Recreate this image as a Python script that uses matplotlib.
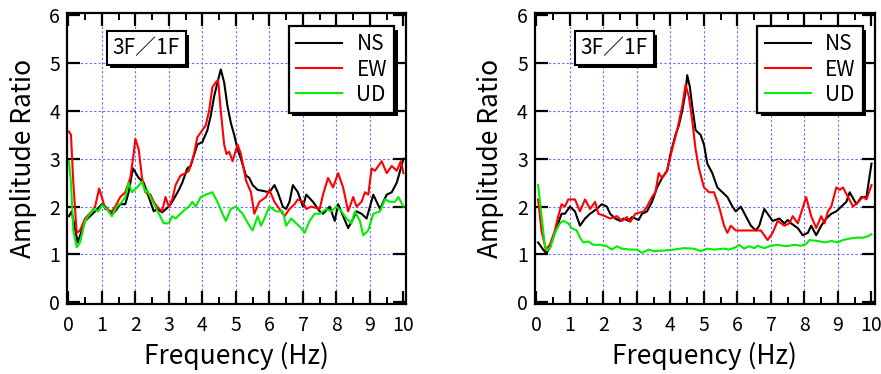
import matplotlib
matplotlib.use("Agg")
import matplotlib.pyplot as plt
from matplotlib.ticker import MultipleLocator
import matplotlib.patheffects as pe

plt.rcParams['font.family'] = ['Noto Sans CJK JP', 'DejaVu Sans']

# ---- left panel (3F/1F) ----
L_ns_f = [0.02, 0.1, 0.28, 0.5, 0.8, 1.0, 1.1, 1.3, 1.4, 1.55, 1.7, 1.8, 1.93, 2.1, 2.25, 2.35, 2.45,
          2.55, 2.65, 2.8, 3.0, 3.1, 3.3, 3.4, 3.55, 3.65, 3.85, 4.0, 4.15, 4.25, 4.35, 4.45, 4.55,
          4.65, 4.75, 4.85, 4.95, 5.05, 5.15, 5.3, 5.4, 5.5, 5.65, 5.8, 6.0, 6.15, 6.25, 6.4, 6.5,
          6.6, 6.7, 6.85, 7.0, 7.1, 7.3, 7.5, 7.6, 7.8, 7.95, 8.05, 8.2, 8.35, 8.5, 8.6, 8.75, 8.9,
          9.1, 9.3, 9.5, 9.65, 9.8, 10.0]
L_ns = [1.8, 1.9, 1.25, 1.7, 1.9, 2.05, 2.0, 1.85, 1.9, 2.05, 2.05, 2.3, 2.8, 2.6, 2.5, 2.3, 2.1,
        1.9, 1.95, 1.88, 2.0, 2.1, 2.35, 2.5, 2.8, 2.85, 3.3, 3.35, 3.6, 3.9, 4.3, 4.6, 4.87,
        4.6, 4.1, 3.75, 3.5, 3.2, 3.0, 2.65, 2.6, 2.45, 2.35, 2.33, 2.3, 2.45, 2.3, 2.0, 1.95,
        2.1, 2.45, 2.3, 2.0, 2.25, 2.1, 1.9, 1.85, 2.0, 1.7, 2.05, 1.8, 1.55, 1.75, 1.9, 1.85, 1.75,
        2.25, 1.95, 2.25, 2.3, 2.5, 3.0]

L_ew_f = [0.02, 0.08, 0.15, 0.25, 0.35, 0.5, 0.7, 0.8, 0.92, 1.0, 1.1, 1.3, 1.4, 1.55, 1.7, 1.85,
          1.95, 2.0, 2.1, 2.2, 2.3, 2.45, 2.55, 2.65, 2.8, 2.9, 3.0, 3.1, 3.2, 3.35, 3.5, 3.6, 3.75,
          3.85, 4.0, 4.1, 4.2, 4.3, 4.4, 4.47, 4.55, 4.65, 4.72, 4.8, 4.9, 5.05, 5.15, 5.3, 5.45,
          5.55, 5.7, 5.9, 6.0, 6.15, 6.3, 6.45, 6.6, 6.75, 6.85, 7.0, 7.1, 7.25, 7.5, 7.6, 7.75,
          7.9, 8.05, 8.2, 8.35, 8.5, 8.6, 8.75, 8.85, 8.95, 9.05, 9.15, 9.35, 9.5, 9.65, 9.8, 9.92,
          10.0]
L_ew = [3.57, 3.5, 2.5, 1.45, 1.5, 1.75, 1.9, 2.0, 2.38, 2.2, 1.95, 1.9, 2.0, 2.2, 2.3, 2.6,
        3.1, 3.42, 3.2, 2.6, 2.3, 2.25, 2.1, 2.0, 1.9, 2.2, 2.0, 2.15, 2.45, 2.65, 2.7, 2.75, 3.1,
        3.45, 3.6, 3.7, 4.0, 4.5, 4.6, 4.65, 4.0, 3.3, 3.1, 3.15, 2.95, 3.3, 3.1, 2.55, 2.3,
        1.85, 2.1, 2.2, 2.35, 2.1, 1.95, 1.8, 1.95, 2.05, 2.15, 2.1, 1.95, 2.0, 1.95, 2.25, 2.6,
        2.4, 2.7, 2.4, 1.9, 2.2, 2.0, 2.1, 2.3, 2.25, 2.8, 2.75, 2.95, 2.7, 2.85, 2.75, 2.95,
        2.7]

L_ud_f = [0.02, 0.08, 0.15, 0.25, 0.35, 0.5, 0.65, 0.75, 0.9, 1.0, 1.15, 1.3, 1.45, 1.6, 1.7, 1.8,
          1.9, 2.05, 2.2, 2.3, 2.35, 2.45, 2.6, 2.7, 2.85, 3.0, 3.1, 3.2, 3.35, 3.5, 3.6, 3.7, 3.8,
          3.95, 4.1, 4.3, 4.45, 4.6, 4.7, 4.85, 5.0, 5.2, 5.4, 5.5, 5.65, 5.75, 5.85, 6.0, 6.2,
          6.4, 6.5, 6.65, 6.8, 6.95, 7.05, 7.2, 7.35, 7.5, 7.7, 7.85, 8.0, 8.15, 8.3, 8.45, 8.55,
          8.7, 8.8, 8.95, 9.1, 9.3, 9.45, 9.6, 9.75, 9.85, 10.0]
L_ud = [2.95, 2.5, 1.5, 1.15, 1.25, 1.7, 1.85, 1.95, 1.9, 2.03, 1.95, 1.8, 2.0, 2.1, 2.2, 2.5,
        2.3, 2.4, 2.52, 2.3, 2.35, 2.2, 2.0, 1.85, 1.65, 1.65, 1.8, 1.75, 1.85, 1.95, 2.0, 2.1, 2.0,
        2.2, 2.25, 2.3, 2.1, 1.85, 1.7, 1.95, 2.0, 1.85, 1.6, 1.5, 1.8, 1.6, 1.75, 2.0, 1.9,
        1.9, 1.6, 1.75, 1.65, 1.55, 1.45, 1.7, 1.85, 1.85, 1.95, 1.9, 2.0, 1.9, 1.75, 1.65, 1.9,
        1.7, 1.4, 1.5, 1.85, 1.9, 2.15, 2.1, 2.1, 2.2, 2.0]

# ---- right panel (3F/1F) ----
R_ns_f = [0.05, 0.2, 0.3, 0.4, 0.55, 0.75, 0.85, 1.0, 1.15, 1.3, 1.45, 1.6, 1.8, 1.95, 2.1, 2.2,
          2.35, 2.5, 2.6, 2.75, 2.85, 3.05, 3.15, 3.3, 3.45, 3.6, 3.75, 3.9, 4.0, 4.15, 4.25, 4.35,
          4.45, 4.5, 4.58, 4.65, 4.75, 4.9, 5.0, 5.1, 5.25, 5.4, 5.55, 5.7, 5.85, 5.95, 6.1, 6.25,
          6.4, 6.55, 6.65, 6.8, 6.95, 7.05, 7.25, 7.4, 7.5, 7.6, 7.8, 7.95, 8.1, 8.2, 8.35, 8.5,
          8.65, 8.8, 8.95, 9.1, 9.25, 9.35, 9.55, 9.7, 9.85, 10.0]
R_ns = [1.25, 1.1, 1.02, 1.15, 1.45, 1.85, 1.85, 2.0, 1.9, 1.6, 1.75, 1.85, 1.95, 2.05, 2.0, 1.85,
        1.75, 1.7, 1.75, 1.7, 1.78, 1.72, 1.85, 1.9, 2.1, 2.4, 2.6, 2.75, 3.1, 3.5, 3.7, 4.0,
        4.4, 4.75, 4.5, 4.1, 3.6, 3.5, 3.3, 2.9, 2.7, 2.4, 2.3, 2.2, 2.0, 1.9, 2.0, 1.8,
        1.6, 1.5, 1.6, 1.95, 1.8, 1.7, 1.75, 1.65, 1.72, 1.65, 1.55, 1.4, 1.45, 1.6, 1.4, 1.6,
        1.75, 1.85, 1.9, 2.0, 2.1, 2.3, 2.05, 2.2, 2.2, 2.9]

R_ew_f = [0.05, 0.15, 0.28, 0.4, 0.55, 0.65, 0.75, 0.85, 0.95, 1.15, 1.3, 1.45, 1.6, 1.75, 1.85,
          2.05, 2.2, 2.4, 2.55, 2.7, 2.8, 2.95, 3.2, 3.3, 3.45, 3.55, 3.65, 3.75, 3.9, 4.05, 4.2,
          4.35, 4.45, 4.55, 4.65, 4.75, 4.85, 5.0, 5.15, 5.3, 5.45, 5.6, 5.7, 5.8, 5.95, 6.2, 6.5,
          6.7, 6.9, 7.05, 7.2, 7.4, 7.55, 7.65, 7.8, 8.05, 8.2, 8.35, 8.5, 8.6, 8.7, 8.8, 8.95,
          9.05, 9.15, 9.3, 9.45, 9.6, 9.75, 9.85, 10.0]
R_ew = [2.15, 1.5, 1.1, 1.2, 1.5, 1.8, 2.05, 2.0, 2.15, 2.15, 1.9, 2.15, 1.95, 2.1, 1.85,
        1.8, 1.75, 1.8, 1.7, 1.78, 1.68, 1.85, 1.9, 2.0, 2.2, 2.3, 2.7, 2.6, 2.75, 3.2, 3.6,
        4.1, 4.55, 4.3, 3.8, 3.2, 2.8, 2.4, 2.3, 2.3, 2.0, 1.6, 1.45, 1.6, 1.5, 1.5, 1.5,
        1.5, 1.3, 1.45, 1.7, 1.6, 1.65, 1.8, 1.65, 2.2, 1.8, 1.55, 1.8, 1.65, 1.9, 2.0, 2.4,
        2.35, 2.4, 2.2, 2.0, 2.1, 2.2, 2.15, 2.45]

R_ud_f = [0.05, 0.12, 0.25, 0.32, 0.42, 0.55, 0.7, 0.8, 0.95, 1.05, 1.2, 1.3, 1.4, 1.55, 1.7, 1.9,
          2.1, 2.25, 2.4, 2.55, 2.8, 3.0, 3.15, 3.35, 3.5, 3.8, 4.1, 4.4, 4.7, 4.9, 5.1, 5.3, 5.6,
          5.75, 5.95, 6.05, 6.2, 6.35, 6.5, 6.6, 6.8, 7.0, 7.2, 7.45, 7.7, 7.9, 8.05, 8.15, 8.4,
          8.6, 8.8, 9.0, 9.15, 9.35, 9.55, 9.75, 9.9, 10.0]
R_ud = [2.45, 2.0, 1.2, 1.08, 1.15, 1.45, 1.65, 1.7, 1.65, 1.55, 1.5, 1.35, 1.25, 1.27, 1.2, 1.2,
        1.17, 1.1, 1.17, 1.12, 1.1, 1.1, 1.03, 1.1, 1.07, 1.08, 1.1, 1.13, 1.12, 1.07, 1.12, 1.1, 1.12,
        1.1, 1.15, 1.2, 1.12, 1.17, 1.13, 1.18, 1.13, 1.18, 1.2, 1.17, 1.2, 1.18, 1.22, 1.3, 1.28,
        1.25, 1.28, 1.25, 1.3, 1.33, 1.35, 1.35, 1.38, 1.42]

panels = [
    ([0.076, 0.187, 0.385, 0.778], (L_ns_f, L_ns), (L_ew_f, L_ew), (L_ud_f, L_ud), (-0.04, 10.08)),
    ([0.607, 0.187, 0.386, 0.778], (R_ns_f, R_ns), (R_ew_f, R_ew), (R_ud_f, R_ud), (-0.05, 10.1)),
]

shadow_fx = [pe.SimplePatchShadow(offset=(2.5, -2.5), shadow_rgbFace='black', alpha=1), pe.Normal()]

fig = plt.figure(figsize=(8.81, 3.74), dpi=100)

for rect, ns, ew, ud, xl in panels:
    ax = fig.add_axes(rect)
    ax.plot(*ns, color='black', lw=1.5, label='NS')
    ax.plot(*ew, color='#ff0000', lw=1.5, label='EW')
    ax.plot(*ud, color='#00ee00', lw=1.5, label='UD')
    ax.set_xlim(*xl)
    ax.set_ylim(-0.04, 6.05)
    ax.xaxis.set_major_locator(MultipleLocator(1))
    ax.xaxis.set_minor_locator(MultipleLocator(0.5))
    ax.yaxis.set_major_locator(MultipleLocator(1))
    ax.grid(True, which='major', color='#6a6aff', linestyle=(0, (2, 2)), lw=0.8)
    # no grid on the frame edges
    for gl, v in zip(ax.get_xgridlines(), ax.get_xticks()):
        if v in (0, 10):
            gl.set_visible(False)
    for gl, v in zip(ax.get_ygridlines(), ax.get_yticks()):
        if v in (0, 6):
            gl.set_visible(False)
    ax.tick_params(which='both', direction='in', top=True, right=True, labelsize=14)
    ax.tick_params(axis='x', pad=8)
    ax.tick_params(axis='y', pad=5)
    ax.tick_params(which='major', length=9.5, width=1.6)
    ax.tick_params(which='minor', length=5, width=1.4)
    for s in ax.spines.values():
        s.set_linewidth(1.6)
    ax.set_xlabel('Frequency (Hz)', fontsize=19, labelpad=4)
    ax.set_ylabel('Amplitude Ratio', fontsize=19, labelpad=9)

    # label box with shadow
    t = ax.text(0.135, 0.88, '3F／1F', transform=ax.transAxes, fontsize=15, ha='left', va='center',
                bbox=dict(boxstyle='square,pad=0.28', fc='white', ec='black', lw=1.5), zorder=5)
    t.get_bbox_patch().set_path_effects(shadow_fx)

    leg = ax.legend(loc='upper right', bbox_to_anchor=(0.965, 0.955), borderaxespad=0, fontsize=15,
                    frameon=True, fancybox=False, edgecolor='black', framealpha=1, handlelength=2.2,
                    handletextpad=0.7, labelspacing=0.15, borderpad=0.35)
    leg.get_frame().set_linewidth(1.6)
    leg.get_frame().set_path_effects(shadow_fx)
    leg.set_zorder(6)

fig.savefig('out.png', dpi=100)
